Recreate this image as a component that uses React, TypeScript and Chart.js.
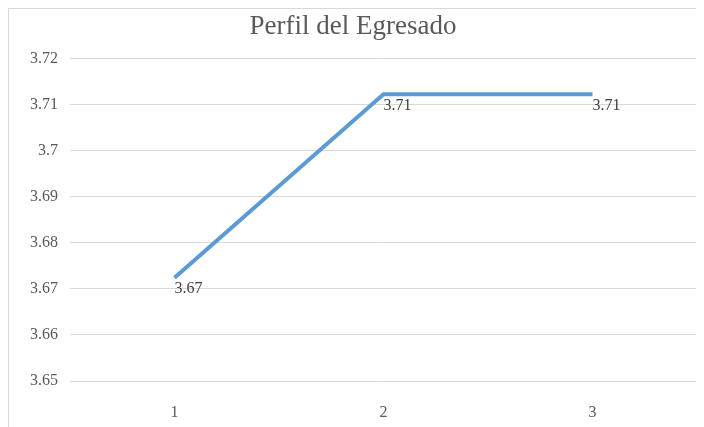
import React, { useEffect, useRef } from "react";
import { Chart, registerables } from "chart.js";

Chart.register(...registerables);

const chartTitle = "Perfil del Egresado";
const categories = ["1", "2", "3"];
const values = [3.6724, 3.7122, 3.7122];
const yMin = 3.65;
const yMax = 3.72;
const yStep = 0.01;

const FONT = "'Liberation Serif', 'Times New Roman', serif";

const dataLabelPlugin = {
  id: "dataLabels",
  afterDatasetsDraw(chart: any) {
    const ctx = chart.ctx;
    const meta = chart.getDatasetMeta(0);
    ctx.save();
    ctx.font = `16px ${FONT}`;
    ctx.fillStyle = "#404040";
    ctx.textAlign = "left";
    ctx.textBaseline = "top";
    meta.data.forEach((pt: any, i: number) => {
      const v = chart.data.datasets[0].data[i] as number;
      ctx.fillText(v.toFixed(2), pt.x, pt.y + 3);
    });
    ctx.restore();
  },
};

export default function App() {
  const ref = useRef<HTMLCanvasElement>(null);
  useEffect(() => {
    document.body.style.overflow = "hidden";
    const chart = new Chart(ref.current!, {
      type: "line",
      data: {
        labels: categories,
        datasets: [
          {
            data: values,
            borderColor: "#5B9BD5",
            borderWidth: 4,
            pointRadius: 0,
            tension: 0,
            fill: false,
          },
        ],
      },
      options: {
        animation: false,
        responsive: false,
        layout: { padding: { left: 0, right: 7, top: 0, bottom: 0 } },
        plugins: {
          legend: { display: false },
          tooltip: { enabled: false },
          title: {
            display: true,
            text: chartTitle,
            color: "#595959",
            font: { family: FONT, size: 27, weight: "normal" },
            padding: { top: 2, bottom: 15 },
          },
        },
        scales: {
          x: {
            offset: true,
            grid: { display: false },
            border: { display: false },
            ticks: {
              color: "#595959",
              font: { family: FONT, size: 16 },
              padding: 14,
            },
            afterFit(scale: any) {
              scale.height = 46;
            },
          },
          y: {
            min: yMin,
            max: yMax,
            grid: { color: "#d9d9d9", lineWidth: 1, drawTicks: false },
            border: { display: false },
            ticks: {
              stepSize: yStep,
              color: "#595959",
              font: { family: FONT, size: 16 },
              padding: 12,
              callback: (v: any) => String(Number(Number(v).toFixed(2))),
            },
            afterFit(scale: any) {
              scale.width = 61;
            },
          },
        },
      },
      plugins: [dataLabelPlugin],
    });
    return () => chart.destroy();
  }, []);
  return (
    <div
      style={{
        width: 696,
        height: 419,
        borderLeft: "1px solid #d9d9d9",
        borderTop: "1px solid #d9d9d9",
        boxSizing: "border-box",
        background: "#fff",
      }}
    >
      <canvas ref={ref} width={695} height={418} style={{ display: "block" }} />
    </div>
  );
}
